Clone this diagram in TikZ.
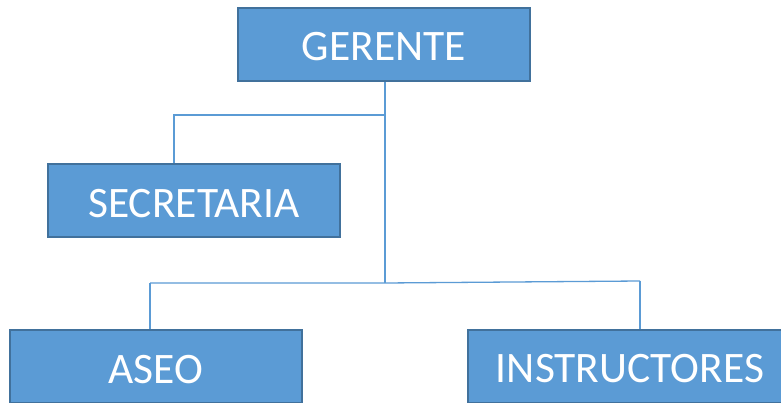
\documentclass[tikz,border=0pt]{standalone}
\usepackage{fontspec}
\setmainfont{Carlito}
\usetikzlibrary{calc}
\definecolor{cargo}{HTML}{5B9BD5}
\definecolor{borde}{HTML}{41719C}

\begin{document}
\begin{tikzpicture}[
    x=1pt,
    y=-1pt,
    every node/.style={font=\fontsize{43.5}{50}\selectfont},
    cargo/.style={
        draw=borde,
        line width=2pt,
        fill=cargo,
        text=white,
        inner sep=0pt,
        text height=33pt,
        text depth=0pt,
        minimum width=292pt,
        minimum height=73pt
    },
    linea/.style={
        draw=cargo,
        line width=1.3pt
    }
]

% ============================================================
% MARCO
% ============================================================

\useasboundingbox[fill=white] (0,0) rectangle (781,403);

% ============================================================
% CARGOS
% ============================================================

\node[cargo] (gerente) at (384,44.5)
{GERENTE};

\node[cargo] (secretaria) at (194,201)
{SECRETARIA};

\node[cargo] (aseo) at (156,366.5)
{ASEO};

\node[
    cargo,
    minimum width=324pt
] (instructores) at (630,366)
{INSTRUCTORES};

% ============================================================
% UNIONES
% ============================================================

\coordinate (unionSec) at (385,115);
\coordinate (unionBase) at (385,283);
\coordinate (codoSec) at (174,115);
\coordinate (codoAseo) at (150,283);
\coordinate (codoInst) at (640,281);

\draw[linea] (gerente.south -| unionSec) -- (unionBase);

\draw[linea] (unionSec) -- (codoSec) -- (codoSec |- secretaria.north);

\draw[linea] (codoAseo) -- (unionBase) -- (codoInst);
\draw[linea] (codoAseo) -- (codoAseo |- aseo.north);
\draw[linea] (codoInst) -- (codoInst |- instructores.north);

\end{tikzpicture}
\end{document}
